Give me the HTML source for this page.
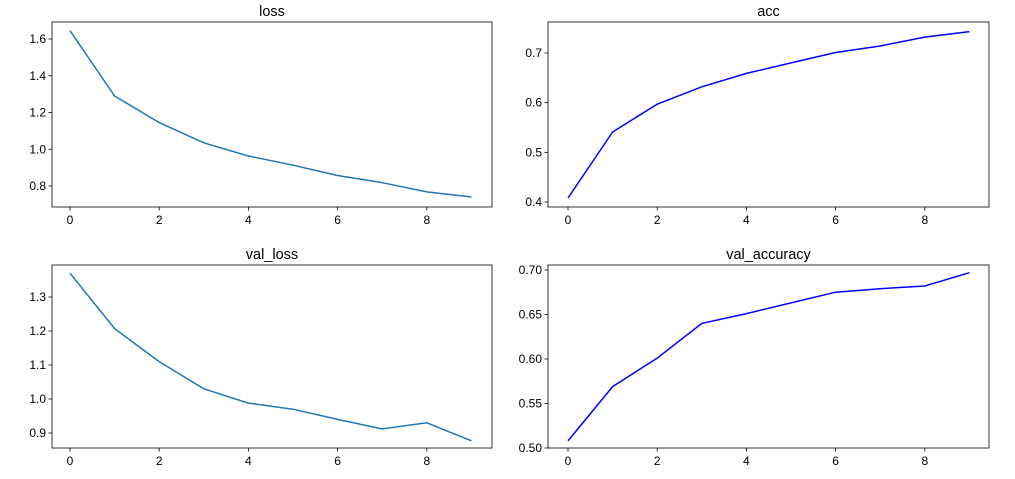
<!DOCTYPE html>
<html><head><meta charset="utf-8"><style>
body{margin:0;background:#fff;width:1015px;height:474px;overflow:hidden}
svg text{font-family:"Liberation Sans","DejaVu Sans",sans-serif;font-size:12px;fill:#000}
</style></head><body>
<svg id="fig" width="1015" height="474" xmlns="http://www.w3.org/2000/svg"></svg>
<script>
const epochs=[0,1,2,3,4,5,6,7,8,9];
const lossValues=[1.645,1.29,1.145,1.035,0.963,0.913,0.857,0.818,0.768,0.74];
const accValues=[0.408,0.541,0.597,0.632,0.659,0.68,0.701,0.714,0.732,0.743];
const valLossValues=[1.37,1.207,1.11,1.03,0.988,0.97,0.94,0.912,0.93,0.877];
const valAccValues=[0.508,0.569,0.601,0.64,0.651,0.663,0.675,0.679,0.682,0.697];
const xTicks=[0,2,4,6,8];
const lossTicks=[0.8,1.0,1.2,1.4,1.6];
const accTicks=[0.4,0.5,0.6,0.7];
const valLossTicks=[0.9,1.0,1.1,1.2,1.3];
const valAccTicks=[0.50,0.55,0.60,0.65,0.70];

const NS="http://www.w3.org/2000/svg";
const svg=document.getElementById('fig');
function mk(t,a,p){const e=document.createElementNS(NS,t);for(const k in a)e.setAttribute(k,a[k]);(p||svg).appendChild(e);return e;}
const panels=[
 {name:'loss',title:'loss',vals:lossValues,ticks:lossTicks,dec:1,color:'#1f77b4',L:52,R:492,T:22,B:207,y0:0.8,py0:186,y1:1.6,py1:39,x0:70},
 {name:'acc',title:'acc',vals:accValues,ticks:accTicks,dec:1,color:'#0000ff',L:548,R:989,T:22,B:207,y0:0.4,py0:202,y1:0.7,py1:53,x0:568},
 {name:'val-loss',title:'val_loss',vals:valLossValues,ticks:valLossTicks,dec:1,color:'#1f77b4',L:52,R:492,T:265,B:448,y0:0.9,py0:433,y1:1.3,py1:297,x0:70},
 {name:'val-accuracy',title:'val_accuracy',vals:valAccValues,ticks:valAccTicks,dec:2,color:'#0000ff',L:548,R:989,T:265,B:448,y0:0.5,py0:448,y1:0.7,py1:270,x0:568}
];
const dx=44.6;
panels.forEach(p=>{
 const g=mk('g',{});
 
 
 const X=v=>p.x0+v*dx;
 const Y=v=>p.py0+(v-p.y0)*(p.py1-p.py0)/(p.y1-p.y0);
 const pts=epochs.map((e,i)=>X(e).toFixed(1)+','+Y(p.vals[i]).toFixed(1)).join(' ');
 const line=mk('polyline',{points:pts,fill:'none',stroke:p.color,'stroke-width':1.5},g);
 
 
 const fr=mk('rect',{x:p.L,y:p.T,width:p.R-p.L,height:p.B-p.T,fill:'none',stroke:'#000','stroke-width':0.8},g);
 
 
 xTicks.forEach(t=>{
  mk('line',{x1:X(t),x2:X(t),y1:p.B,y2:p.B+3.5,stroke:'#000','stroke-width':0.8},g);
  const tx=mk('text',{x:X(t),y:p.B+17,'text-anchor':'middle'},g);tx.textContent=t;
  
  
 });
 p.ticks.forEach(t=>{
  mk('line',{x1:p.L-3.5,x2:p.L,y1:Y(t),y2:Y(t),stroke:'#000','stroke-width':0.8},g);
  const tx=mk('text',{x:p.L-6,y:Y(t)+4,'text-anchor':'end'},g);tx.textContent=t.toFixed(p.dec);
  
  
 });
 const ti=mk('text',{x:(p.L+p.R)/2,y:p.T-6,'text-anchor':'middle',style:'font-size:14.5px'},g);ti.textContent=p.title;
 
 
});
</script>
</body></html>
